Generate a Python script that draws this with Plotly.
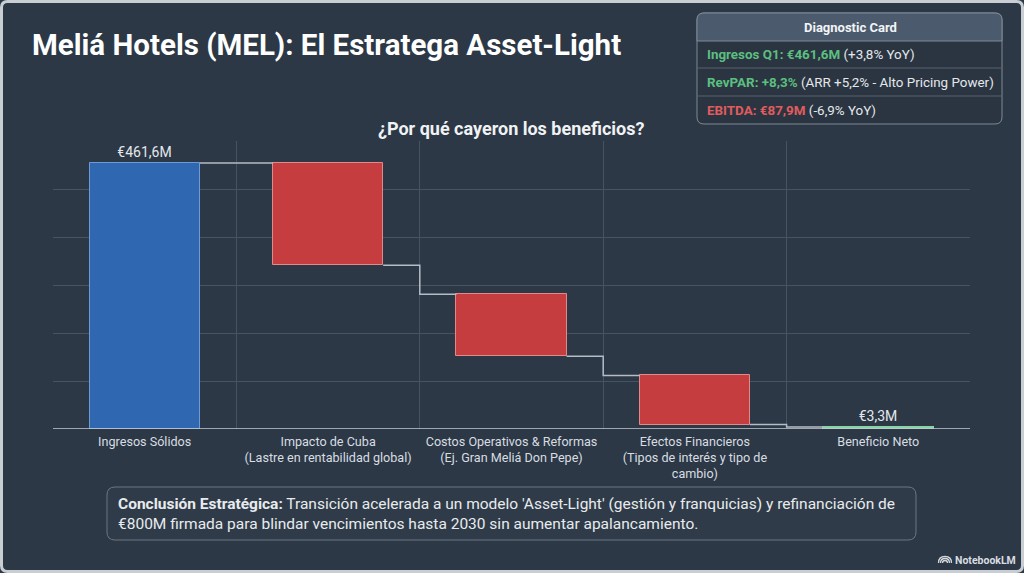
import plotly.graph_objects as go

# ---------------- data ----------------
categories = [
    "Ingresos Sólidos",
    "Impacto de Cuba<br>(Lastre en rentabilidad global)",
    "Costos Operativos & Reformas<br>(Ej. Gran Meliá Don Pepe)",
    "Efectos Financieros<br>(Tipos de interés y tipo de<br>cambio)",
    "Beneficio Neto",
]
step_start = [0.0, 461.6, 233.9, 93.0, 0.0]     # where each bar begins (value units, €M as drawn)
step_end = [461.6, 284.3, 126.1, 7.8, 3.3]      # where each bar ends
bar_labels = ["€461,6M", "", "", "", "€3,3M"]
bar_kind = ["total", "neg", "neg", "neg", "result"]
y_max = 500
y_grid_steps = 6

card_rows = [
    ("Ingresos Q1: €461,6M", "(+3,8% YoY)", "#5cbf80"),
    ("RevPAR: +8,3%", "(ARR +5,2% - Alto Pricing Power)", "#5cbf80"),
    ("EBITDA: €87,9M", "(-6,9% YoY)", "#e05c5e"),
]

# ---------------- layout constants ----------------
W, H = 1024, 573
ML, MR, MT, MB = 53, 54, 141, 144
PW, PH = W - ML - MR, H - MT - MB
BG = "#2c3845"
FONT = "Roboto"


def px(x):
    return (x - ML) / PW


def py(y):
    return (H - MB - y) / PH


def rrect(x0, y0, x1, y1, r, bottom_r=None):
    rb = r if bottom_r is None else bottom_r
    pts = [
        ("M", [(x0 + r, y0)]),
        ("L", [(x1 - r, y0)]),
        ("Q", [(x1, y0), (x1, y0 + r)]),
        ("L", [(x1, y1 - rb)]),
        ("Q", [(x1, y1), (x1 - rb, y1)]),
        ("L", [(x0 + rb, y1)]),
        ("Q", [(x0, y1), (x0, y1 - rb)]),
        ("L", [(x0, y0 + r)]),
        ("Q", [(x0, y0), (x0 + r, y0)]),
    ]
    s = ""
    for cmd, cs in pts:
        s += cmd + " " + " ".join(f"{px(a):.5f},{py(b):.5f}" for a, b in cs) + " "
    return s + "Z"


fill_map = {"total": "#2f67b1", "neg": "#c63d40", "result": "#4fae74"}
line_map = {"total": "#6e9bd8", "neg": "#e08a8b", "result": "#86d3a3"}
lw_map = {"total": 1, "neg": 1, "result": 2}

xs = list(range(len(categories)))
bar_w = 0.6
heights = [e - s for s, e in zip(step_start, step_end)]

fig = go.Figure()
fig.add_trace(go.Bar(
    x=xs, y=heights, base=step_start, width=bar_w,
    marker=dict(color=[fill_map[k] for k in bar_kind],
                line=dict(color=[line_map[k] for k in bar_kind],
                          width=[lw_map[k] for k in bar_kind])),
    text=bar_labels, textposition="outside",
    textfont=dict(color="#e4e8ec", size=14, family=FONT),
    hoverinfo="skip", showlegend=False,
))

# connectors: from end of bar i to start of bar i+1 (stepping at category boundary)
cx, cy = [], []
for i in range(len(xs) - 1):
    a = step_end[i]
    b = step_start[i + 1] if bar_kind[i + 1] != "result" else step_end[i + 1]
    cx += [xs[i] + bar_w / 2, xs[i] + 0.5, xs[i] + 0.5, xs[i + 1] - bar_w / 2, None]
    cy += [a, a, b, b, None]
fig.add_trace(go.Scatter(x=cx, y=cy, mode="lines",
                         line=dict(color="#b4bcc5", width=1.5),
                         hoverinfo="skip", showlegend=False))

grid_vals = [y_max * k / y_grid_steps for k in range(y_grid_steps + 1)]

fig.update_layout(
    width=W, height=H,
    margin=dict(l=ML, r=MR, t=MT, b=MB, pad=0),
    paper_bgcolor=BG, plot_bgcolor=BG,
    font=dict(family=FONT, color="#e4e8ec"),
    xaxis=dict(
        range=[-0.5, len(xs) - 0.5], tickmode="array", tickvals=xs, ticktext=categories,
        showgrid=False, zeroline=False, showline=False, ticks="",
        ticklabelstandoff=3,
        tickfont=dict(size=12.6, color="#d8dde2", family=FONT),
        minor=dict(tickmode="array", tickvals=[x + 0.5 for x in [-1] + xs],
                   showgrid=True, gridcolor="#47535f", gridwidth=1, ticks=""),
        fixedrange=True,
    ),
    yaxis=dict(
        range=[0, y_max], tickmode="array", tickvals=grid_vals, showticklabels=False,
        showgrid=True, gridcolor="#47535f", gridwidth=1, zeroline=False, showline=False,
        fixedrange=True,
    ),
    bargap=0,
)

shapes = []
annotations = []

# baseline axis
shapes.append(dict(type="line", xref="paper", yref="y", x0=0, x1=1, y0=0, y1=0,
                   line=dict(color="#c5ccd3", width=1.5)))

# outer frame
shapes.append(dict(type="path", xref="paper", yref="paper",
                   path=rrect(1.5, 1.5, W - 1.5, H - 1.5, 6),
                   line=dict(color="#c9ced3", width=3), fillcolor="rgba(0,0,0,0)"))

# title
annotations.append(dict(xref="paper", yref="paper", x=px(30), y=py(45), xanchor="left",
                        yanchor="middle", showarrow=False,
                        text="<b>Meliá Hotels (MEL): El Estratega Asset-Light</b>",
                        font=dict(size=29.5, color="#ffffff", family=FONT)))
# chart subtitle
annotations.append(dict(xref="paper", yref="paper", x=px(511), y=py(128), xanchor="center",
                        yanchor="middle", showarrow=False,
                        text="<b>¿Por qué cayeron los beneficios?</b>",
                        font=dict(size=18, color="#f0f2f4", family=FONT)))

# diagnostic card
cx0, cy0, cx1, cy1 = 697, 13, 1002, 124
shapes.append(dict(type="path", xref="paper", yref="paper", path=rrect(cx0, cy0, cx1, cy1, 7),
                   fillcolor="#2a3541", line=dict(color="#7e8a97", width=1)))
shapes.append(dict(type="path", xref="paper", yref="paper", path=rrect(cx0, cy0, cx1, 41, 7, 0),
                   fillcolor="#4b5b6d", line=dict(color="#7e8a97", width=1)))
for yy in (68, 96):
    shapes.append(dict(type="line", xref="paper", yref="paper", x0=px(cx0), x1=px(cx1),
                       y0=py(yy), y1=py(yy), line=dict(color="#56626f", width=1)))
annotations.append(dict(xref="paper", yref="paper", x=px(850), y=py(27), xanchor="center",
                        yanchor="middle", showarrow=False, text="<b>Diagnostic Card</b>",
                        font=dict(size=13, color="#f2f4f6", family=FONT)))
for i, (key, rest, col) in enumerate(card_rows):
    annotations.append(dict(
        xref="paper", yref="paper", x=px(705), y=py(55 + i * 27.7), xanchor="left",
        yanchor="middle", showarrow=False,
        text=f"<b><span style='color:{col}'>{key}</span></b> {rest}",
        font=dict(size=13.4, color="#e4e8ec", family=FONT)))

# conclusion box
shapes.append(dict(type="path", xref="paper", yref="paper", path=rrect(107, 487, 916, 540, 8),
                   fillcolor="#2f3b48", line=dict(color="#6c7784", width=1)))
annotations.append(dict(
    xref="paper", yref="paper", x=px(116), y=py(513.5), xanchor="left", yanchor="middle",
    align="left", showarrow=False,
    text=("<b>Conclusión Estratégica:</b> Transición acelerada a un modelo 'Asset-Light' "
          "(gestión y franquicias) y refinanciación de<br>€800M firmada para blindar "
          "vencimientos hasta 2030 sin aumentar apalancamiento."),
    font=dict(size=15.5, color="#e8ebee", family=FONT)))

# NotebookLM mark
for r in (2.5, 4.5, 6.5):
    xc, yc = 945, 563
    p = (f"M {px(xc - r):.5f},{py(yc):.5f} Q {px(xc - r):.5f},{py(yc - r):.5f} {px(xc):.5f},{py(yc - r):.5f} "
         f"Q {px(xc + r):.5f},{py(yc - r):.5f} {px(xc + r):.5f},{py(yc):.5f}")
    shapes.append(dict(type="path", xref="paper", yref="paper", path=p,
                       line=dict(color="#d4d8dc", width=1.3)))
annotations.append(dict(xref="paper", yref="paper", x=px(953), y=py(560), xanchor="left",
                        yanchor="middle", showarrow=False, text="<b>NotebookLM</b>",
                        font=dict(size=10.5, color="#d8dce0", family=FONT)))

fig.update_layout(shapes=shapes, annotations=annotations)
fig.write_html("out.html")
